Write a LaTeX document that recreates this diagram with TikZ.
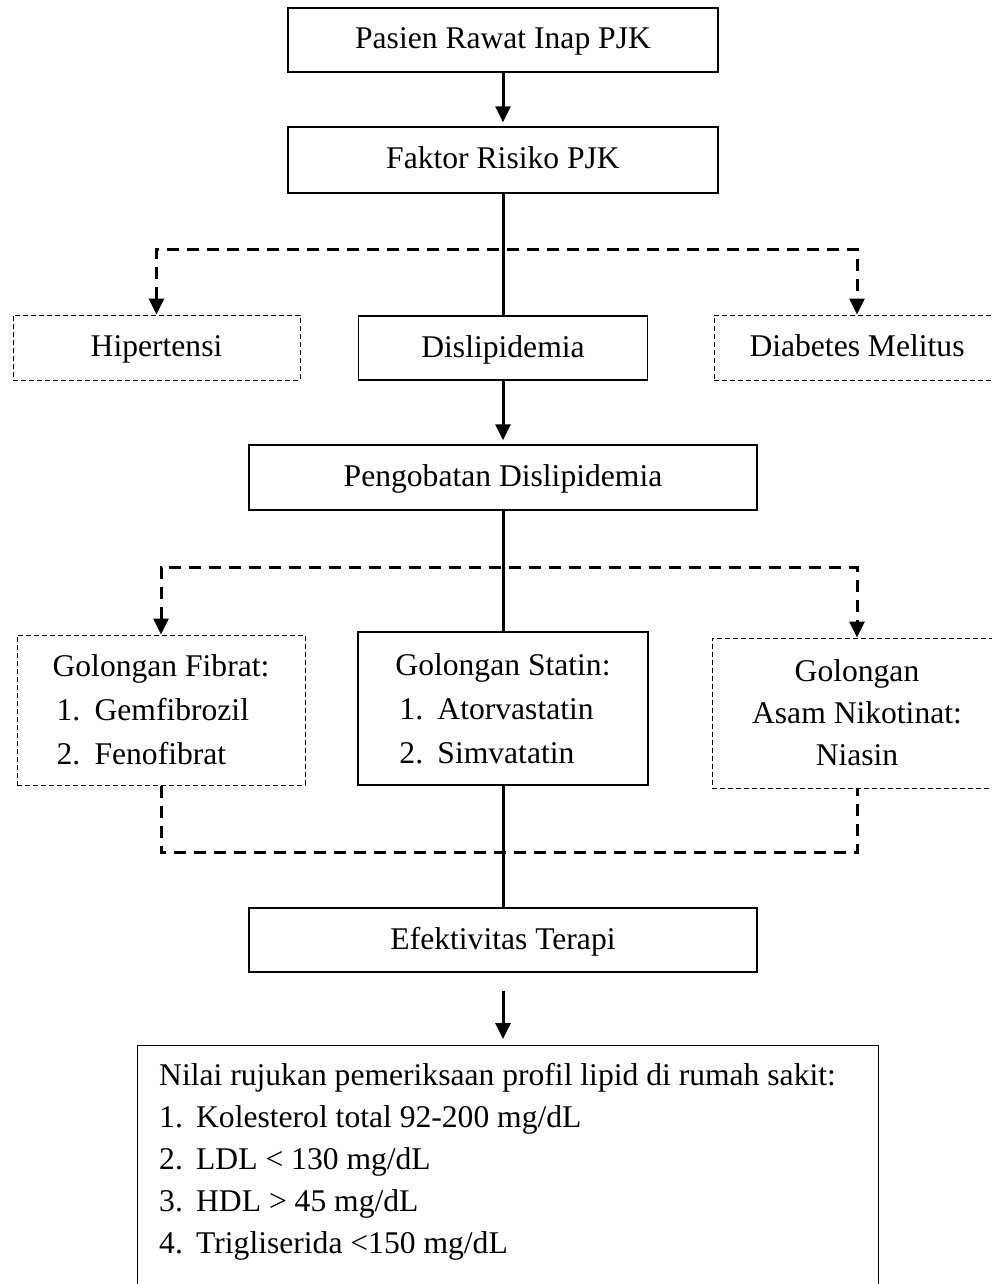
\documentclass[tikz,border=0pt]{standalone}
\usepackage{fontspec}
\setmainfont{Liberation Serif}
\usetikzlibrary{arrows.meta}

\newcommand{\itm}[1]{\hspace*{4pt}\makebox[38pt][l]{#1}}

\begin{document}
\begin{tikzpicture}[x=1pt, y=-1pt,
  box/.style={draw, line width=1.3pt, inner sep=0pt, align=center,
    font=\fontsize{31.6}{44}\selectfont},
  line/.style={text height=22pt, text depth=4pt},
  dbox/.style={box, line width=1pt, dash pattern=on 5pt off 3pt},
  conn/.style={line width=3pt},
  arr/.style={conn, -{Triangle[length=16pt, width=15pt]}},
  dconn/.style={conn, dash pattern=on 12pt off 8pt}]
  \useasboundingbox (0,0) rectangle (992,1284);

  \node[box, line, minimum width=430pt, minimum height=64pt] (pasien) at (503,40) {Pasien Rawat Inap PJK};
  \node[box, line, minimum width=430pt, minimum height=66pt] (faktor) at (503,160) {Faktor Risiko PJK};
  \node[dbox, line, minimum width=287pt, minimum height=65pt] (hiper) at (156.5,347.5) {Hipertensi};
  \node[box, line, minimum width=289pt, minimum height=64pt] (disli) at (503,348) {Dislipidemia};
  \node[dbox, line, minimum width=286pt, minimum height=65pt] (diab) at (857,347.5) {Diabetes Melitus};
  \node[box, line, minimum width=508pt, minimum height=65pt] (obat) at (503,477.5) {Pengobatan Dislipidemia};
  \node[dbox, minimum width=288pt, minimum height=150pt, align=left] (fibrat) at (161,710)
    {Golongan Fibrat:\\ \itm{1.}Gemfibrozil\\ \itm{2.}Fenofibrat};
  \node[box, minimum width=290pt, minimum height=153pt, align=left] (statin) at (503,708.5)
    {Golongan Statin:\\ \itm{1.}Atorvastatin\\ \itm{2.}Simvatatin};
  \node[dbox, minimum width=290pt, minimum height=150pt, font=\fontsize{31.6}{42}\selectfont] (niko) at (857,713)
    {Golongan\\ Asam Nikotinat:\\ Niasin};
  \node[box, line, minimum width=508pt, minimum height=64pt] (efek) at (503,940) {Efektivitas Terapi};
  \node[box, anchor=north west, minimum width=741pt, minimum height=270pt] (nilai) at (137,1045) {};
  \node[anchor=north west, inner sep=0pt, align=left, font=\fontsize{31.6}{42}\selectfont]
    (nilaitxt) at ([xshift=22pt, yshift=-18pt]nilai.north west)
    {Nilai rujukan pemeriksaan profil lipid di rumah sakit:\\
     \makebox[37pt][l]{1.}Kolesterol total 92-200 mg/dL\\
     \makebox[37pt][l]{2.}LDL < 130 mg/dL\\
     \makebox[37pt][l]{3.}HDL > 45 mg/dL\\
     \makebox[37pt][l]{4.}Trigliserida <150 mg/dL};

  % connectors
  \draw[arr, shorten >=4pt] (pasien) -- (faktor);
  \draw[conn] (faktor) -- (disli);
  \draw[dconn, {Triangle[length=16pt, width=15pt]}-{Triangle[length=16pt, width=15pt]}]
    (hiper.north) -- ++(0,-65) -| (diab.north);
  \draw[arr, shorten >=4pt] (disli) -- (obat);
  \draw[conn] (obat) -- (statin);
  \draw[dconn, {Triangle[length=16pt, width=15pt]}-{Triangle[length=16pt, width=15pt]}]
    (fibrat.north) -- ++(0,-67) -| (niko.north);
  \draw[dconn] (fibrat.south) -- ++(0,67) -| (niko.south);
  \draw[conn] (statin) -- (efek);
  \draw[arr, shorten <=18pt, shorten >=6pt] (efek.south) -- (efek.south |- nilai.north);
\end{tikzpicture}
\end{document}
